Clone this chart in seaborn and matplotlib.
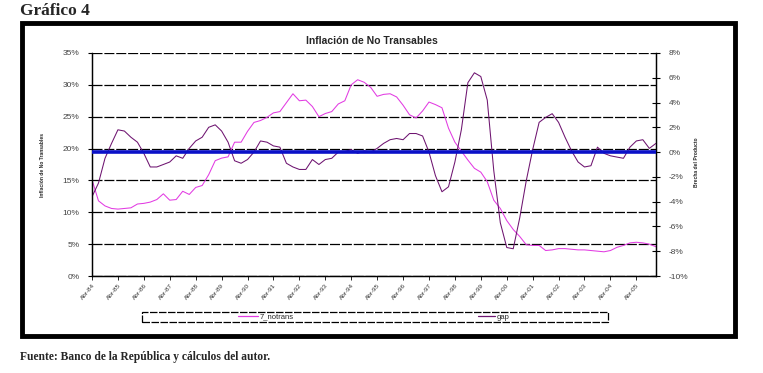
import pandas as pd
import seaborn as sns
import matplotlib.pyplot as plt
from matplotlib.patches import Rectangle
from matplotlib.lines import Line2D
from matplotlib.ticker import FuncFormatter, MultipleLocator

# quarterly readings, Abr-84 .. Ene-06
notrans = [
    15.1, 11.8, 11.0, 10.6, 10.5, 10.6, 10.7, 11.3,
    11.4, 11.6, 12.0, 12.9, 11.9, 12.0, 13.3, 12.8,
    13.9, 14.2, 15.9, 18.1, 18.5, 18.7, 21.0, 21.0,
    22.7, 24.1, 24.4, 24.9, 25.6, 25.8, 27.2, 28.6,
    27.5, 27.6, 26.6, 25.0, 25.5, 25.8, 27.0, 27.5,
    30.0, 30.8, 30.4, 29.6, 28.2, 28.5, 28.6, 28.1,
    26.8, 25.3, 24.8, 25.9, 27.3, 26.9, 26.4, 23.2,
    21.0, 19.6, 18.2, 16.9, 16.3, 14.8, 11.9, 10.6,
    8.7, 7.3, 6.2, 4.9, 4.8, 4.8, 4.0, 4.1,
    4.3, 4.3, 4.2, 4.1, 4.1, 4.0, 3.9, 3.8,
    4.0, 4.5, 4.8, 5.2, 5.3, 5.2, 5.0, 4.6,
]
gap = [
    -3.6, -2.5, -0.5, 0.7, 1.8, 1.7, 1.2, 0.8,
    -0.1, -1.2, -1.2, -1.0, -0.8, -0.3, -0.5, 0.3,
    0.9, 1.2, 2.0, 2.2, 1.7, 0.8, -0.7, -0.9,
    -0.6, 0.0, 0.9, 0.8, 0.5, 0.4, -0.9, -1.2,
    -1.4, -1.4, -0.6, -1.0, -0.6, -0.5, 0.0, 0.05,
    0.2, -0.1, 0.1, 0.0, 0.3, 0.7, 1.0, 1.1,
    1.0, 1.5, 1.5, 1.3, 0.0, -1.9, -3.2, -2.8,
    -0.8, 1.8, 5.6, 6.4, 6.1, 4.2, -1.5, -5.7,
    -7.7, -7.8, -5.3, -2.3, 0.2, 2.4, 2.8, 3.1,
    2.4, 1.2, 0.1, -0.8, -1.2, -1.1, 0.4, -0.1,
    -0.3, -0.4, -0.5, 0.4, 0.9, 1.0, 0.3, 0.7,
]
year_labels = [
    "Abr-84", "Abr-85", "Abr-86", "Abr-87", "Abr-88", "Abr-89", "Abr-90",
    "Abr-91", "Abr-92", "Abr-93", "Abr-94", "Abr-95", "Abr-96", "Abr-97",
    "Abr-98", "Abr-99", "Abr-00", "Abr-01", "Abr-02", "Abr-03", "Abr-04",
    "Abr-05",
]

dates = pd.date_range("1984-04-01", periods=len(notrans), freq="3MS")
df = pd.DataFrame({"fecha": dates, "7_notrans": notrans, "gap": gap})
year_ticks = pd.date_range("1984-04-01", periods=len(year_labels), freq="12MS")

sns.set_style("white")
plt.rcParams["font.family"] = ["Liberation Sans", "DejaVu Sans"]

c_notrans = "#E23BE2"
c_gap = "#6E1470"

fig = plt.figure(figsize=(7.63, 3.73), dpi=100)
ax = fig.add_axes([0.1206, 0.260, 0.739, 0.598])
ax2 = ax.twinx()

sns.lineplot(data=df, x="fecha", y="7_notrans", ax=ax, color=c_notrans, lw=0.75)
sns.lineplot(data=df, x="fecha", y="gap", ax=ax2, color=c_gap, lw=0.75)
ax2.axhline(0, color="#0A10C8", lw=2.6, zorder=5)

ax.set_xlim(dates[0], dates[-1])
ax.set_ylim(0, 35)
ax2.set_ylim(-10, 8)
ax.yaxis.set_major_locator(MultipleLocator(5))
ax2.yaxis.set_major_locator(MultipleLocator(2))
pct = FuncFormatter(lambda v, p: f"{v:.0f}%")
ax.yaxis.set_major_formatter(pct)
ax2.yaxis.set_major_formatter(pct)

ax.set_xticks(year_ticks)
ax.set_xticklabels(year_labels, rotation=50, ha="right", rotation_mode="anchor",
                   fontsize=4.6, color="#333333")
ax.tick_params(axis="x", length=3, width=0.6, color="black", pad=2, bottom=True)
ax.tick_params(axis="y", labelsize=6, labelcolor="#444444", length=3,
               width=0.8, color="black", left=True, pad=6)
ax2.tick_params(axis="y", labelsize=6, labelcolor="#444444", length=6,
                width=0.8, direction="inout", color="black", right=True, pad=6)

ax.yaxis.grid(True, color="black", lw=0.9, ls=(0, (8, 1.5)))
ax.get_ygridlines()[-1].set_color("#888888")
ax.set_axisbelow(True)

for a in (ax, ax2):
    a.spines["top"].set_visible(False)
    for s in ("left", "right", "bottom"):
        a.spines[s].set_color("black")
        a.spines[s].set_linewidth(0.9)
ax.set_xlabel("")
ax.set_ylabel("")
ax2.set_xlabel("")
ax2.set_ylabel("")

fig.text(0.056, 0.557, "Inflación de No Transables", rotation=90, fontsize=3.6,
         fontweight="bold", ha="center", va="center")
fig.text(0.913, 0.565, "Brecha del Producto", rotation=90, fontsize=3.6,
         fontweight="bold", ha="center", va="center")
fig.text(0.488, 0.889, "Inflación de No Transables", fontsize=7.5,
         fontweight="bold", ha="center", va="center")

# legend box with the two entries centred in each half
lx0, lx1 = 142 / 763, 608 / 763
ly0, ly1 = 1 - 322 / 373, 1 - 312 / 373
fig.patches.append(Rectangle((lx0, ly0), lx1 - lx0, ly1 - ly0, transform=fig.transFigure,
                             fill=False, ec="black", lw=0.9, ls=(0, (6, 1.2))))
h1 = Line2D([], [], color=c_notrans, lw=0.9)
h2 = Line2D([], [], color=c_gap, lw=0.9)
leg1 = fig.legend([h1], ["7_notrans"], loc="center", bbox_to_anchor=(266 / 763, (ly0 + ly1) / 2),
                  frameon=False, fontsize=5.5, handlelength=2.6, handletextpad=0.3,
                  borderpad=0)
leg2 = fig.legend([h2], ["gap"], loc="center", bbox_to_anchor=(494 / 763, (ly0 + ly1) / 2),
                  frameon=False, fontsize=5.5, handlelength=2.2, handletextpad=0.2,
                  borderpad=0)

# outer black frame
fig.patches.append(Rectangle((22 / 763, 1 - 336 / 373), 713 / 763, 313 / 373,
                             transform=fig.transFigure, fill=False, ec="black", lw=3.5))

fig.text(20 / 763, 1 - 11 / 373, "Gráfico 4", fontsize=12.5, fontweight="bold",
         family=["Liberation Serif", "DejaVu Serif"], ha="left", va="center")
fig.text(20 / 763, 1 - 357 / 373, "Fuente: Banco de la República y cálculos del autor.",
         fontsize=8.3, fontweight="bold", family=["Liberation Serif", "DejaVu Serif"],
         ha="left", va="center")

fig.savefig("out.png", dpi=100)
